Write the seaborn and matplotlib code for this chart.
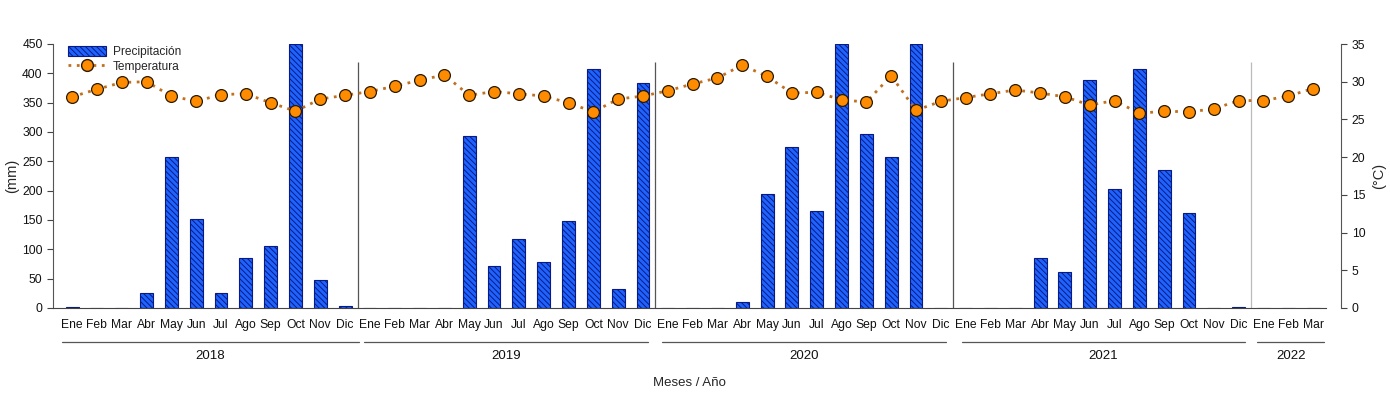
import numpy as np
import pandas as pd
import matplotlib
matplotlib.use("Agg")
import matplotlib.pyplot as plt
import matplotlib.transforms as mtransforms
from matplotlib.patches import Patch
from matplotlib.lines import Line2D
import seaborn as sns

# ---------------- data ----------------
months = ["Ene", "Feb", "Mar", "Abr", "May", "Jun", "Jul", "Ago", "Sep", "Oct", "Nov", "Dic"] * 4 + ["Ene", "Feb", "Mar"]
years = ["2018", "2019", "2020", "2021", "2022"]
year_counts = [12, 12, 12, 12, 3]

precip_2018 = [2, 0, 0, 25, 257, 151, 25, 86, 106, 450, 48, 4]
precip_2019 = [0, 0, 0, 0, 294, 71, 118, 79, 149, 408, 33, 384]
precip_2020 = [0, 0, 0, 10, 195, 274, 165, 450, 296, 258, 450, 0]
precip_2021 = [0, 0, 0, 85, 61, 388, 203, 407, 236, 162, 0, 2]
precip_2022 = [0, 0, 0]

temp_2018 = [28.0, 29.0, 29.9, 30.0, 28.1, 27.4, 28.3, 28.4, 27.2, 26.1, 27.7, 28.2]
temp_2019 = [28.7, 29.4, 30.2, 30.9, 28.2, 28.7, 28.4, 28.1, 27.2, 26.0, 27.7, 28.1]
temp_2020 = [28.8, 29.7, 30.5, 32.2, 30.7, 28.5, 28.6, 27.6, 27.3, 30.8, 26.2, 27.4]
temp_2021 = [27.9, 28.4, 28.9, 28.5, 28.0, 26.9, 27.5, 25.8, 26.1, 26.0, 26.4, 27.5]
temp_2022 = [27.5, 28.1, 29.1]

precip = precip_2018 + precip_2019 + precip_2020 + precip_2021 + precip_2022
temp = temp_2018 + temp_2019 + temp_2020 + temp_2021 + temp_2022
idx = np.arange(len(months))
df = pd.DataFrame({"idx": idx, "mes": months, "precip": precip, "temp": temp})

# ---------------- style ----------------
sns.set_theme(style="white")
plt.rcParams["font.family"] = ["Liberation Sans", "DejaVu Sans"]
plt.rcParams["hatch.linewidth"] = 0.7

BAR_FILL = "#1f63ff"
BAR_EDGE = "#0a1a80"
LINE_COL = "#c0701e"
MARK_COL = "#ff8c00"
HATCH = "\\\\\\\\\\\\"

fig = plt.figure(figsize=(13.9, 3.94), dpi=100)
ax = fig.add_axes([53 / 1390, 1 - 308 / 394, (1326 - 53) / 1390, (308 - 44) / 394])
ax2 = ax.twinx()

# bars
sns.barplot(data=df, x="idx", y="precip", native_scale=True, ax=ax,
            color=BAR_FILL, width=0.52, edgecolor=BAR_EDGE, linewidth=0.8,
            hatch=HATCH, saturation=1, errorbar=None)
for p in ax.patches:
    p.set_facecolor(BAR_FILL)
    p.set_edgecolor(BAR_EDGE)
    p.set_hatch(HATCH)

# temperature line
sns.lineplot(data=df, x="idx", y="temp", ax=ax2, color=LINE_COL, linestyle=(0, (1, 2.0)),
             linewidth=2.0, marker="o", markersize=8.5, markerfacecolor=MARK_COL,
             markeredgecolor="#2a1a00", markeredgewidth=0.9)

ax.set_xlim(-0.77, 50.52)
ax.set_ylim(0, 450)
ax2.set_ylim(0, 35)
ax.set_yticks(np.arange(0, 451, 50))
ax2.set_yticks(np.arange(0, 36, 5))

ax.set_xticks(idx)
ax.set_xticklabels(months, fontsize=8.7, color="#111111")
ax.tick_params(axis="x", length=4, width=0.8, color="#444444", pad=4)
ax.tick_params(axis="y", length=4, width=0.8, color="#444444", labelsize=8.7, labelcolor="#111111", left=True)
ax2.tick_params(axis="y", length=4, width=0.8, color="#444444", labelsize=8.7, labelcolor="#111111", right=True)

for s in ["top", "right"]:
    ax.spines[s].set_visible(False)
for s in ["top", "left", "bottom"]:
    ax2.spines[s].set_visible(False)
ax.spines["left"].set_color("#555555")
ax.spines["bottom"].set_color("#444444")
ax.spines["left"].set_linewidth(0.8)
ax.spines["bottom"].set_linewidth(0.8)
ax2.spines["right"].set_position(("outward", 11))
ax2.spines["right"].set_color("#555555")
ax2.spines["right"].set_linewidth(0.8)

ax.set_ylabel("(mm)", fontsize=10.5, labelpad=2)
ax2.set_ylabel("(°C)", fontsize=10.5, labelpad=5)
ax.set_xlabel("Meses / Año", fontsize=9.5, labelpad=33)
ax2.set_xlabel("")

# year separators
sep_cols = ["#555555", "#555555", "#555555", "#bbbbbb"]
start = 0
for i, n in enumerate(year_counts[:-1]):
    start += n
    ax.vlines(start - 0.5, 0, 420, color=sep_cols[i], linewidth=0.9, zorder=0.5)

# year group lines and labels below axis
trans = mtransforms.blended_transform_factory(ax.transData, ax.transAxes)
pads = [(-0.4, 0.55), (-0.25, 0.2), (-0.25, 0.2), (-0.15, 0.25), (-0.25, 0.45)]
start = 0
for yr, n, (pl, pr) in zip(years, year_counts, pads):
    x0, x1 = start + pl, start + n - 1 + pr
    ax.plot([x0, x1], [-0.128, -0.128], transform=trans, color="#555555",
            linewidth=0.9, clip_on=False)
    ax.text((x0 + x1) / 2, -0.18, yr, transform=trans, ha="center", va="center",
            fontsize=9.5, color="#111111")
    start += n

ax2.set_zorder(ax.get_zorder() + 1)
ax2.patch.set_visible(False)

# legend
h_bar = Patch(facecolor=BAR_FILL, edgecolor=BAR_EDGE, hatch=HATCH, linewidth=0.8)
h_line = Line2D([], [], color=LINE_COL, linestyle=(0, (1, 2.0)), linewidth=2.0, marker="o",
                markersize=8.5, markerfacecolor=MARK_COL, markeredgecolor="#2a1a00")
leg = ax2.legend([h_bar, h_line], ["Precipitación", "Temperatura"], loc="upper left",
                 bbox_to_anchor=(0.005, 1.025), frameon=False, fontsize=8.6,
                 handlelength=3.2, handleheight=0.9, labelspacing=0.25, borderaxespad=0.3,
                 handletextpad=0.6)

fig.savefig("out.png", dpi=100)
